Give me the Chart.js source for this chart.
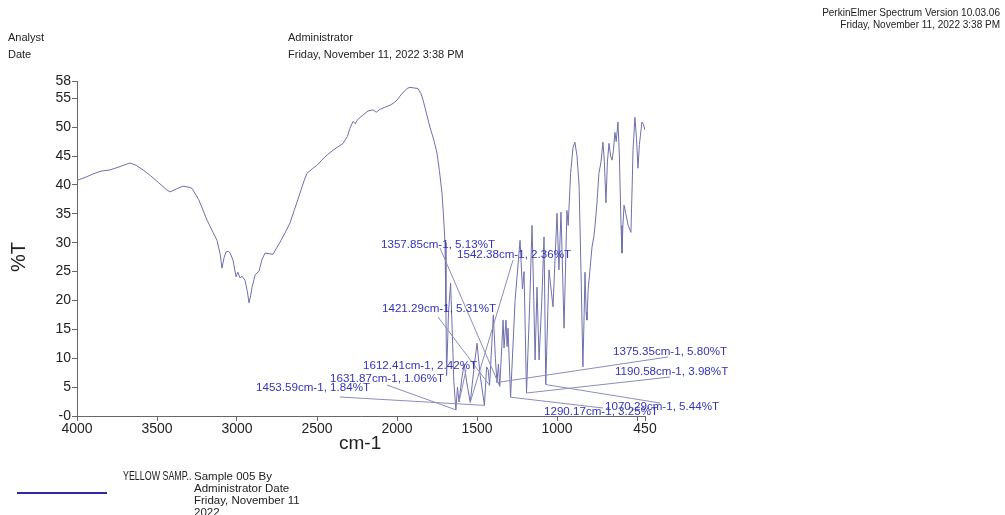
<!DOCTYPE html>
<html>
<head>
<meta charset="utf-8">
<script src="https://cdn.jsdelivr.net/npm/chart.js@4.4.1/dist/chart.umd.min.js"></script>
<style>
  html, body { margin: 0; padding: 0; background: #fff; }
  body { width: 1005px; height: 515px; position: relative; overflow: hidden;
         font-family: "Liberation Sans", Arial, sans-serif; color: #222; }
  #spectrum { position: absolute; left: 0; top: 0; }
  .txt { position: absolute; white-space: nowrap; line-height: 1; }
  .hdr { font-size: 11px; }
  .ver { font-size: 10px; right: 5px; text-align: right; }
  .legend-line { position: absolute; left: 17px; top: 492px; width: 90px; height: 2px; background: #2b2ba6; }
  .leg { font-size: 11.5px; line-height: 12px; }
  .squeeze { font-size: 12px; transform: scaleX(0.74); transform-origin: 0 0; }
</style>
</head>
<body>
<canvas id="spectrum" width="1005" height="515"></canvas>

<div class="txt ver" style="top:8px">PerkinElmer Spectrum Version 10.03.06</div>
<div class="txt ver" style="top:20px">Friday, November 11, 2022 3:38 PM</div>
<div class="txt hdr" style="left:8px; top:32px">Analyst</div>
<div class="txt hdr" style="left:8px; top:49px">Date</div>
<div class="txt hdr" style="left:288px; top:32px">Administrator</div>
<div class="txt hdr" style="left:288px; top:49px">Friday, November 11, 2022 3:38 PM</div>

<div class="txt" style="left:8px; top:252px; font-size:20px; transform: rotate(-90deg); transform-origin: 10px 10px; width:30px;">%T</div>
<div class="txt" style="left:339px; top:433px; font-size:19px;">cm-1</div>

<div class="legend-line"></div>
<div class="txt leg squeeze" style="left:123px; top:470px">YELLOW&nbsp;SAMP..</div>
<div class="txt leg" style="left:194px; top:470px">Sample 005 By<br>Administrator Date<br>Friday, November 11<br>2022</div>

<script>
// spectrum trace (cm-1 / %T)
const wavenumbers = [
  4000, 3950, 3900, 3850, 3794, 3750, 3700, 3669, 3630, 3587, 3540, 3490, 3437, 3419, 3380, 3337,
  3300, 3281, 3240, 3187, 3150, 3125, 3105, 3094, 3080, 3069, 3055, 3044, 3025, 3006, 2995, 2981,
  2968, 2950, 2935, 2925, 2915, 2906, 2887, 2862, 2845, 2825, 2800, 2775, 2731, 2700, 2669, 2640,
  2606, 2580, 2563, 2530, 2500, 2470, 2437, 2400, 2375, 2337, 2310, 2294, 2275, 2260, 2250, 2231,
  2200, 2181, 2150, 2130, 2106, 2080, 2044, 2020, 2000, 1970, 1937, 1919, 1895, 1869, 1850, 1837,
  1815, 1794, 1770, 1750, 1735, 1719, 1710, 1700, 1694, 1690, 1678, 1665, 1655, 1645, 1631.87, 1622,
  1612.41, 1595, 1580, 1565, 1542.38, 1520, 1500, 1480, 1453.59, 1440, 1430, 1421.29, 1398, 1385, 1375.35, 1366,
  1357.85, 1345, 1337, 1331, 1319, 1312, 1306, 1290.17, 1262, 1231, 1216, 1206, 1190.58, 1170, 1156, 1145,
  1137, 1125, 1112, 1095, 1081, 1070.29, 1050, 1025, 1000, 988, 975, 956, 938, 930, 915, 900,
  888, 875, 862, 850, 838, 830, 825, 818, 813, 805, 795, 781, 770, 763, 750, 738,
  725, 713, 704, 694, 685, 675, 665, 656, 647, 638, 630, 619, 610, 600, 594, 588,
  581, 570, 555, 538, 530, 525, 513, 503, 494, 485, 469, 460, 450
];
const transmittance = [
  40.8, 41.3, 41.9, 42.4, 42.6, 43.0, 43.5, 43.8, 43.4, 42.6, 41.6, 40.4, 39.1, 38.8, 39.3, 39.8,
  39.6, 39.4, 37.5, 33.9, 31.8, 30.4, 28.0, 25.6, 27.5, 28.4, 28.5, 28.3, 27.0, 24.1, 24.9, 23.9,
  24.2, 23.5, 21.5, 19.6, 20.8, 22.3, 24.4, 25.1, 27.0, 28.2, 28.1, 28.0, 30.1, 31.7, 33.4, 35.8,
  38.6, 40.8, 42.0, 42.8, 43.4, 44.3, 45.2, 46.0, 46.5, 47.2, 48.4, 49.8, 51.0, 50.6, 51.2, 51.7,
  52.4, 52.8, 53.0, 52.6, 53.1, 53.4, 53.8, 54.2, 54.7, 55.8, 56.7, 56.9, 56.8, 56.7, 55.8, 54.7,
  52.3, 50.0, 47.8, 45.5, 42.5, 38.6, 35.0, 30.0, 18.0, 7.0, 18.0, 23.0, 15.0, 6.0, 1.06, 5.0,
  2.42, 6.5, 9.0, 6.0, 2.36, 8.0, 12.6, 7.0, 1.84, 8.5, 8.0, 5.31, 17.5, 10.0, 5.80, 9.0,
  5.13, 12.0, 16.6, 11.8, 16.6, 12.0, 15.2, 3.25, 20.0, 30.4, 22.0, 25.0, 3.98, 20.0, 33.0, 20.0,
  9.7, 22.3, 9.7, 20.0, 31.0, 5.44, 25.3, 18.9, 35.1, 25.3, 35.3, 15.2, 35.6, 33.0, 42.0, 46.5,
  47.4, 45.0, 40.0, 25.0, 8.5, 18.0, 24.9, 18.0, 16.6, 22.0, 25.0, 29.3, 31.0, 32.7, 37.0, 42.0,
  44.0, 47.4, 44.0, 36.9, 44.0, 47.2, 45.0, 44.3, 46.0, 49.1, 47.5, 50.9, 45.0, 33.0, 28.2, 33.0,
  36.5, 35.0, 33.0, 31.8, 40.0, 46.0, 51.7, 48.0, 42.9, 47.0, 50.9, 50.5, 49.5
];

// labelled peaks
const peakWavenumbers = [1357.85, 1542.38, 1421.29, 1612.41, 1631.87, 1453.59, 1375.35, 1190.58, 1290.17, 1070.29];
const peakTransmittance = [5.13, 2.36, 5.31, 2.42, 1.06, 1.84, 5.80, 3.98, 3.25, 5.44];

const xTicks = [4000, 3500, 3000, 2500, 2000, 1500, 1000, 500, 450];
const yTicks = [0, 5, 10, 15, 20, 25, 30, 35, 40, 45, 50, 55, 58];

// where each peak label sits on the page and where its leader line starts
const labelLayout = [
  { x: 381, y: 245, lx: 440, ly: 248 },
  { x: 457, y: 255, lx: 513, ly: 260 },
  { x: 382, y: 309, lx: 438, ly: 317 },
  { x: 363, y: 366, lx: 466, ly: 370 },
  { x: 330, y: 379, lx: 387, ly: 385 },
  { x: 256, y: 388, lx: 340, ly: 397 },
  { x: 613, y: 352, lx: 668, ly: 357 },
  { x: 615, y: 372, lx: 670, ly: 377 },
  { x: 544, y: 412, lx: 603, ly: 408 },
  { x: 605, y: 407, lx: 660, ly: 403 },
];

const peakLabels = {
  id: 'peakLabels',
  afterDatasetsDraw(chart) {
    const { ctx, scales: { x, y } } = chart;
    ctx.save();
    ctx.lineWidth = 1;
    ctx.strokeStyle = '#8c8cbc';
    peakWavenumbers.forEach((w, i) => {
      const l = labelLayout[i];
      ctx.beginPath();
      ctx.moveTo(l.lx, l.ly);
      ctx.lineTo(x.getPixelForValue(w), y.getPixelForValue(peakTransmittance[i]));
      ctx.stroke();
    });
    ctx.fillStyle = '#3434b8';
    ctx.font = '11.6px "Liberation Sans", Arial, sans-serif';
    ctx.textBaseline = 'middle';
    peakWavenumbers.forEach((w, i) => {
      const l = labelLayout[i];
      ctx.fillText(`${w.toFixed(2)}cm-1, ${peakTransmittance[i].toFixed(2)}%T`, l.x, l.y);
    });
    ctx.restore();
  }
};

const axisFont = { family: '"Liberation Sans", Arial, sans-serif', size: 14 };

new Chart(document.getElementById('spectrum'), {
  type: 'line',
  data: {
    datasets: [{
      label: 'YELLOW SAMP..',
      data: wavenumbers.map((w, i) => ({ x: w, y: transmittance[i] })),
      borderColor: '#6f6fac',
      borderWidth: 1,
      pointRadius: 0,
      tension: 0,
    }],
  },
  options: {
    responsive: false,
    animation: false,
    layout: { padding: { top: 81, left: 0, right: 360, bottom: 69 } },
    plugins: { legend: { display: false }, tooltip: { enabled: false } },
    scales: {
      x: {
        type: 'linear',
        reverse: true,
        min: 450,
        max: 4000,
        afterBuildTicks: s => { s.ticks = xTicks.map(v => ({ value: v })); },
        afterFit: s => { s.height = 30; },
        ticks: {
          font: axisFont, color: '#222', padding: 0, maxRotation: 0, autoSkip: false,
          callback: v => (v === 500 ? '' : String(v)),
        },
        grid: { drawOnChartArea: false, tickLength: 5, color: '#666' },
        border: { color: '#666' },
      },
      y: {
        min: 0,
        max: 58,
        afterBuildTicks: s => { s.ticks = yTicks.map(v => ({ value: v })); },
        afterFit: s => { s.width = 77; },
        ticks: {
          font: axisFont, color: '#222', padding: 1, autoSkip: false,
          callback: v => (v === 0 ? '-0' : String(v)),
        },
        grid: { drawOnChartArea: false, tickLength: 5, color: '#666' },
        border: { color: '#666' },
      },
    },
  },
  plugins: [peakLabels],
});
</script>
</body>
</html>
